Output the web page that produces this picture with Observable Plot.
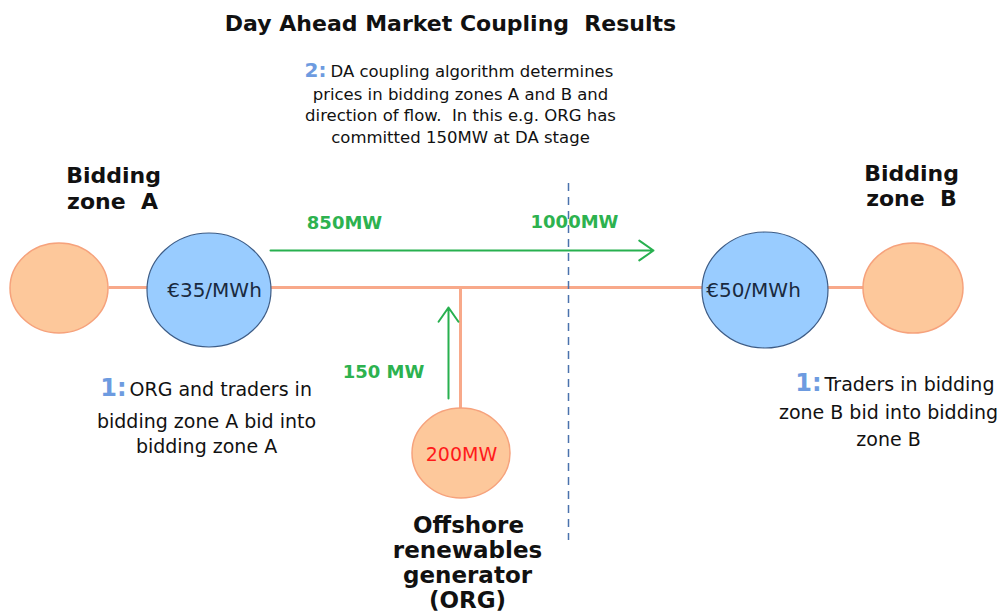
<!DOCTYPE html>
<html><head><meta charset="utf-8">
<script src="https://cdn.jsdelivr.net/npm/d3@7"></script>
<script src="https://cdn.jsdelivr.net/npm/@observablehq/plot@0.6"></script>
<style>body{margin:0;background:#fff} svg{display:block} g[aria-label="title"] text{letter-spacing:0.6px}</style>
</head><body><div id="chart"></div>
<script>
// ---- Diagram content ----
const nodeNames = ["marketA", "zoneA", "zoneB", "marketB", "org"];
const nodeX = [59, 209, 765, 913, 461];
const nodeY = [288, 290, 290, 288, 453];
const nodeRX = [49, 62, 63, 50, 49];
const nodeRY = [45, 57, 58, 45, 45];
const nodeKind = ["gen", "zone", "zone", "gen", "gen"];

// interconnector lines (orange)
const lineX1 = [108, 460];
const lineY1 = [287, 287];
const lineX2 = [864, 460];
const lineY2 = [287, 408];

// flow arrows (green)
const arrowX1 = [270, 448];
const arrowY1 = [250, 398];
const arrowX2 = [653, 448];
const arrowY2 = [250, 307];

// border between bidding zones
const borderX = [568];
const borderY1 = [183];
const borderY2 = [540];

const title = "Day Ahead Market Coupling  Results";

const flowLabels = ["850MW", "1000MW", "150 MW"];
const flowX = [344, 574, 383];
const flowY = [223, 222, 372];

const priceLabels = ["€35/MWh", "€50/MWh"];
const priceX = [214, 753];
const priceY = [290, 290];

const orgCapacity = ["200MW"];

const zoneTitleLines = ["Bidding", "zone  A", "Bidding", "zone  B", "Offshore", "renewables", "generator", "(ORG)"];
const zoneTitleX = [113, 112, 911, 911, 468, 467, 467, 467];
const zoneTitleY = [175, 201, 173, 198, 525, 550, 575, 600];
const zoneTitleSize = [22, 22, 22, 22, 23, 23, 23, 23];

const stepNums = ["2:", "1:", "1:"];
const stepNumX = [326, 126, 821];
const stepNumY = [70, 388, 383];
const stepNumSize = [20, 24, 24];

const stepFirst = ["DA coupling algorithm determines", "ORG and traders in", "Traders in bidding"];
const stepFirstX = [330, 129, 824];
const stepFirstSize = [16.5, 19, 19];

const noteLines = [
  "prices in bidding zones A and B and",
  "direction of flow.  In this e.g. ORG has",
  "committed 150MW at DA stage",
  "bidding zone A bid into",
  "bidding zone A",
  "zone B bid into bidding",
  "zone B"
];
const noteX = [460, 460, 460, 206, 206, 888, 888];
const noteY = [94, 115, 137, 421, 446, 412, 439];
const noteSize = [16.5, 16.5, 16.5, 19, 19, 19, 19];

// ---- build tables ----
const nodes = nodeNames.map((n, i) => ({name: n, x: nodeX[i], y: nodeY[i], rx: nodeRX[i], ry: nodeRY[i], kind: nodeKind[i]}));
const lines = lineX1.map((_, i) => ({x1: lineX1[i], y1: lineY1[i], x2: lineX2[i], y2: lineY2[i]}));
const arrows = arrowX1.map((_, i) => ({x1: arrowX1[i], y1: arrowY1[i], x2: arrowX2[i], y2: arrowY2[i]}));
const border = borderX.map((x, i) => ({x, y1: borderY1[i], y2: borderY2[i]}));
const flows = flowLabels.map((t, i) => ({text: t, x: flowX[i], y: flowY[i]}));
const prices = priceLabels.map((t, i) => ({text: t, x: priceX[i], y: priceY[i]}));
const orgLbl = orgCapacity.map(t => ({text: t, x: nodeX[4], y: nodeY[4] + 1}));
const heads = zoneTitleLines.map((t, i) => ({text: t, x: zoneTitleX[i], y: zoneTitleY[i], size: zoneTitleSize[i]}));
const nums = stepNums.map((t, i) => ({text: t, x: stepNumX[i], y: stepNumY[i], size: stepNumSize[i]}));
const firsts = stepFirst.map((t, i) => ({text: t, x: stepFirstX[i], y: stepNumY[i] + 1, size: stepFirstSize[i]}));
const notes = noteLines.map((t, i) => ({text: t, x: noteX[i], y: noteY[i], size: noteSize[i]}));

const fills = {gen: "#fdc89b", zone: "#99ccff"};
const strokes = {gen: "#f6a27c", zone: "#3d5c86"};

function ellipses(data) {
  return (index, scales) => {
    const g = d3.create("svg:g");
    for (const d of data) {
      const cx = scales.x(d.x), cy = scales.y(d.y);
      const rx = Math.abs(scales.x(d.x + d.rx) - cx);
      const ry = Math.abs(scales.y(d.y + d.ry) - cy);
      g.append("ellipse")
        .attr("cx", cx).attr("cy", cy).attr("rx", rx).attr("ry", ry)
        .attr("fill", fills[d.kind]).attr("stroke", strokes[d.kind])
        .attr("stroke-width", d.kind === "zone" ? 1.2 : 1.5);
    }
    return g.node();
  };
}

const F = "DejaVu Sans";
const chart = Plot.plot({
  width: 1003, height: 613,
  margin: 0,
  x: {domain: [0, 1003], range: [0, 1003], axis: null},
  y: {domain: [0, 613], range: [0, 613], axis: null},
  style: {fontFamily: F, background: "#fff"},
  marks: [
    Plot.link(lines, {x1: "x1", y1: "y1", x2: "x2", y2: "y2", stroke: "#f8a98a", strokeWidth: 3}),
    Plot.ruleX(border, {x: "x", y1: "y1", y2: "y2", stroke: "#4a72ad", strokeWidth: 1.5, strokeDasharray: "8,6"}),
    ellipses(nodes),
    Plot.arrow(arrows, {x1: "x1", y1: "y1", x2: "x2", y2: "y2", stroke: "#27b04f", strokeWidth: 2, headLength: 13, headAngle: 70}),
    Plot.text([title], {x: () => 450, y: () => 23, text: d => d, fontSize: 22, fontWeight: "bold", fill: "#111", fontFamily: F, ariaLabel: "title"}),
    Plot.text(heads, {x: "x", y: "y", text: "text", fontSize: "size", fontWeight: "bold", fill: "#111", fontFamily: F}),
    Plot.text(flows, {x: "x", y: "y", text: "text", fontSize: 18, fontWeight: "bold", fill: "#2db24f", fontFamily: F}),
    Plot.text(prices, {x: "x", y: "y", text: "text", fontSize: 20, fill: "#1a2a40", fontFamily: F}),
    Plot.text(orgLbl, {x: "x", y: "y", text: "text", fontSize: 19, fill: "#ff1a1a", fontFamily: F}),
    Plot.text(nums, {x: "x", y: "y", text: "text", fontSize: "size", fontWeight: "bold", fill: "#6d9be0", textAnchor: "end", fontFamily: F}),
    Plot.text(firsts, {x: "x", y: "y", text: "text", fontSize: "size", fill: "#111", textAnchor: "start", fontFamily: F}),
    Plot.text(notes, {x: "x", y: "y", text: "text", fontSize: "size", fill: "#111", fontFamily: F})
  ]
});
document.getElementById("chart").appendChild(chart);
</script>
</body></html>
